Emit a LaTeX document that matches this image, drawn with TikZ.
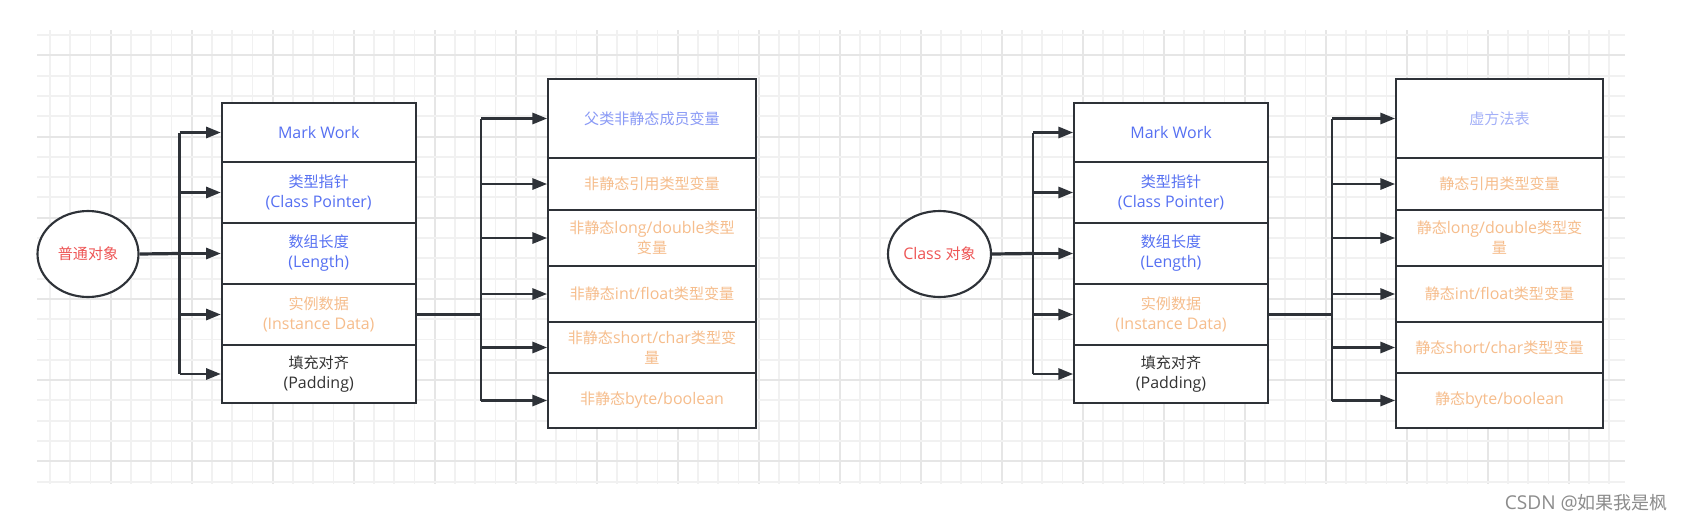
\documentclass[tikz,border=0pt]{standalone}
\usepackage{fontspec}
\setmainfont{Open Sans}[Scale=1.06]
\newfontfamily\zhfont{Noto Sans CJK SC}
\newcommand{\zhs}[1]{{\zhfont #1}}
\usetikzlibrary{arrows.meta,shapes.geometric}
\definecolor{cblue}{HTML}{5670F2}
\definecolor{cblueb}{HTML}{8A9AF6}
\definecolor{cbluec}{HTML}{A3B0F8}
\definecolor{corange}{HTML}{F6BD8C}
\definecolor{cred}{HTML}{EE5555}
\definecolor{cdark}{HTML}{333333}
\definecolor{cline}{HTML}{2E3238}
\definecolor{gminor}{HTML}{F1F1F1}
\definecolor{gmajor}{HTML}{E6E6E6}
\definecolor{cwm}{HTML}{8C8C8C}
\begin{document}
\begin{tikzpicture}[x=0.75pt,y=-0.75pt,
  txt/.style={font=\fontsize{11.3pt}{15pt}\selectfont},
  cell/.style={draw=cline, line width=1.5pt, fill=white, rectangle, inner sep=0pt, align=center, txt},
  lcol/.style={cell, minimum width=194*0.75pt},
  rcol/.style={cell, minimum width=208*0.75pt},
  lcolb/.style={cell, minimum width=194*0.75pt},
  rcolb/.style={cell, minimum width=207*0.75pt},
  obj/.style={draw=cline, line width=1.6pt, fill=white, ellipse, inner sep=0pt, minimum height=86*0.75pt, text=cred, txt},
  arr/.style={draw=cline, line width=1.6pt, -{Triangle[length=11pt,width=8.5pt]}},
  trunk/.style={draw=cline, line width=2pt},
  bus/.style={draw=cline, line width=2.4pt}
]
\useasboundingbox (0,0) rectangle (1685,522);
\fill[white] (0,0) rectangle (1685,522);
% grid
\begin{scope}
\clip (37,30) rectangle (1625,484);
\foreach \k in {0,...,77} {
  \pgfmathsetmacro{\xx}{50+20.25*\k}
  \pgfmathtruncatemacro{\mm}{mod(\k,4)}
  \ifnum\mm=3
    \draw[gmajor, line width=1.5pt] (\xx,30) -- (\xx,484);
  \else
    \draw[gminor, line width=1.4pt] (\xx,30) -- (\xx,484);
  \fi
}
\foreach \k in {0,...,22} {
  \pgfmathsetmacro{\yy}{35+20.3*\k}
  \pgfmathtruncatemacro{\mm}{mod(\k,4)}
  \ifnum\mm=1
    \draw[gmajor, line width=1.5pt] (37,\yy) -- (1625,\yy);
  \else
    \draw[gminor, line width=1.4pt] (37,\yy) -- (1625,\yy);
  \fi
}
\end{scope}

% ---------- group 1 ----------
\node[obj, minimum width=101*0.75pt] (e1) at (88,254) {\zhs{普通对象}};

\node[lcol, minimum height=59*0.75pt, text=cblue] (L1) at (318.7,132.5) {Mark Work};
\node[lcol, minimum height=61*0.75pt, text=cblue] (L2) at (318.7,192.5) {\zhs{类型指针}\\(Class Pointer)};
\node[lcol, minimum height=61*0.75pt, text=cblue] (L3) at (318.7,253.5) {\zhs{数组长度}\\(Length)};
\node[lcol, minimum height=61*0.75pt, text=corange] (L4) at (318.7,314.5) {\zhs{实例数据}\\(Instance Data)};
\node[lcol, minimum height=58*0.75pt, text=cdark] (L5) at (318.7,374) {\zhs{填充对齐}\\(Padding)};

\node[rcol, minimum height=79*0.75pt, text=cblueb] (R1) at (652,118.5) {\zhs{父类非静态成员变量}};
\node[rcol, minimum height=52*0.75pt, text=corange] (R2) at (652,184) {\zhs{非静态引用类型变量}};
\node[rcol, minimum height=56*0.75pt, text=corange] (R3) at (652,238) {\zhs{非静态}long/double\zhs{类型}\\\zhs{变量}};
\node[rcol, minimum height=56*0.75pt, text=corange] (R4) at (652,294) {\zhs{非静态}int/float\zhs{类型变量}};
\node[rcol, minimum height=51*0.75pt, text=corange] (R5) at (652,347.5) {\zhs{非静态}short/char\zhs{类型变}\\\zhs{量}};
\node[rcol, minimum height=55*0.75pt, text=corange] (R6) at (652,400.5) {\zhs{非静态}byte/boolean};

\coordinate (t1) at (179.6,253.5);
\draw[bus] (e1.east) -- (t1);
\draw[trunk] (t1 |- L1.west) -- (t1 |- L5.west);
\foreach \n in {L1,L2,L3,L4,L5} \draw[arr] (t1 |- \n.west) -- (\n.west);

\coordinate (u1) at (481,314.5);
\draw[bus] (L4.east) -- (u1);
\draw[trunk] (u1 |- R1.west) -- (u1 |- R6.west);
\foreach \n in {R1,R2,R3,R4,R5,R6} \draw[arr] (u1 |- \n.west) -- (\n.west);

% ---------- group 2 ----------
\node[obj, minimum width=103*0.75pt] (e2) at (939.5,254) {Class \zhs{对象}};

\node[lcolb, minimum height=59*0.75pt, text=cblue] (M1) at (1171,132.5) {Mark Work};
\node[lcolb, minimum height=61*0.75pt, text=cblue] (M2) at (1171,192.5) {\zhs{类型指针}\\(Class Pointer)};
\node[lcolb, minimum height=61*0.75pt, text=cblue] (M3) at (1171,253.5) {\zhs{数组长度}\\(Length)};
\node[lcolb, minimum height=61*0.75pt, text=corange] (M4) at (1171,314.5) {\zhs{实例数据}\\(Instance Data)};
\node[lcolb, minimum height=58*0.75pt, text=cdark] (M5) at (1171,374) {\zhs{填充对齐}\\(Padding)};

\node[rcolb, minimum height=79*0.75pt, text=cbluec] (S1) at (1499.5,118.5) {\zhs{虚方法表}};
\node[rcolb, minimum height=52*0.75pt, text=corange] (S2) at (1499.5,184) {\zhs{静态引用类型变量}};
\node[rcolb, minimum height=56*0.75pt, text=corange] (S3) at (1499.5,238) {\zhs{静态}long/double\zhs{类型变}\\\zhs{量}};
\node[rcolb, minimum height=56*0.75pt, text=corange] (S4) at (1499.5,294) {\zhs{静态}int/float\zhs{类型变量}};
\node[rcolb, minimum height=51*0.75pt, text=corange] (S5) at (1499.5,347.5) {\zhs{静态}short/char\zhs{类型变量}};
\node[rcolb, minimum height=55*0.75pt, text=corange] (S6) at (1499.5,400.5) {\zhs{静态}byte/boolean};

\coordinate (t2) at (1033,253.5);
\draw[bus] (e2.east) -- (t2);
\draw[trunk] (t2 |- M1.west) -- (t2 |- M5.west);
\foreach \n in {M1,M2,M3,M4,M5} \draw[arr] (t2 |- \n.west) -- (\n.west);

\coordinate (u2) at (1332,314.5);
\draw[bus] (M4.east) -- (u2);
\draw[trunk] (u2 |- S1.west) -- (u2 |- S6.west);
\foreach \n in {S1,S2,S3,S4,S5,S6} \draw[arr] (u2 |- \n.west) -- (\n.west);

% watermark
\node[anchor=east, inner sep=0pt, text=cwm, font=\fontsize{13.5pt}{16pt}\selectfont] (wm) at (1668,503) {CSDN @\zhs{如果我是枫}};
\end{tikzpicture}
\end{document}
